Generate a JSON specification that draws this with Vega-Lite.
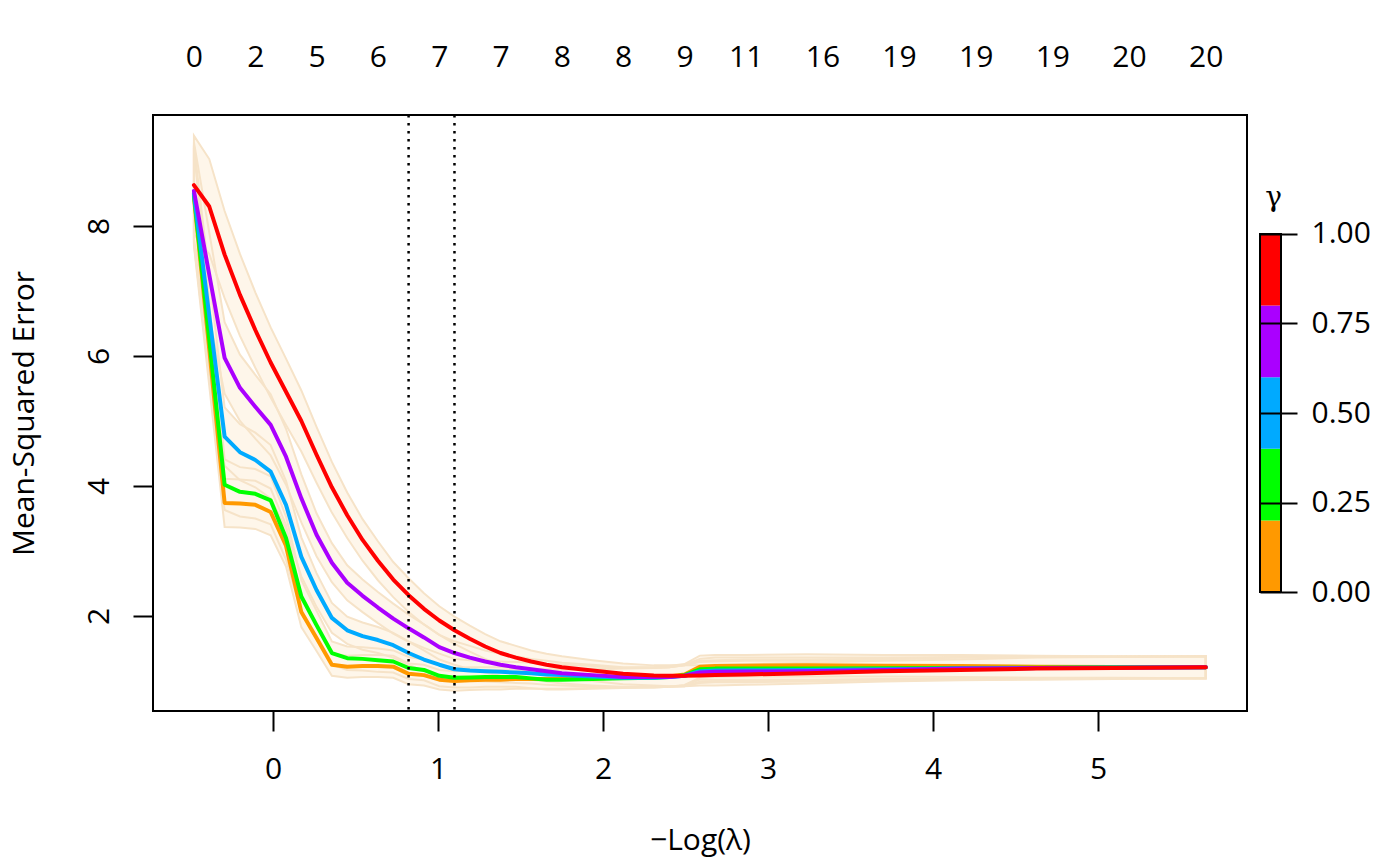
{
  "$schema": "https://vega.github.io/schema/vega-lite/v6.json",
  "background": "white",
  "padding": {"left": 8, "top": 41, "right": 5, "bottom": 5},
  "config": {
    "font": "Open Sans",
    "view": {"stroke": "black", "strokeWidth": 2}
  },
  "datasets": {
    "cv": [
      {"g":0,"x":-0.479,"m":8.45,"lo":7.70,"hi":9.20},
      {"g":0,"x":-0.386,"m":6.10,"lo":5.54,"hi":6.66},
      {"g":0,"x":-0.293,"m":3.74,"lo":3.37,"hi":4.11},
      {"g":0,"x":-0.2,"m":3.73,"lo":3.36,"hi":4.10},
      {"g":0,"x":-0.107,"m":3.71,"lo":3.34,"hi":4.08},
      {"g":0,"x":-0.014,"m":3.60,"lo":3.24,"hi":3.96},
      {"g":0,"x":0.079,"m":3.08,"lo":2.76,"hi":3.40},
      {"g":0,"x":0.172,"m":2.06,"lo":1.83,"hi":2.29},
      {"g":0,"x":0.264,"m":1.66,"lo":1.46,"hi":1.86},
      {"g":0,"x":0.357,"m":1.25,"lo":1.08,"hi":1.42},
      {"g":0,"x":0.45,"m":1.22,"lo":1.05,"hi":1.39},
      {"g":0,"x":0.543,"m":1.23,"lo":1.06,"hi":1.40},
      {"g":0,"x":0.636,"m":1.23,"lo":1.06,"hi":1.40},
      {"g":0,"x":0.729,"m":1.22,"lo":1.05,"hi":1.39},
      {"g":0,"x":0.822,"m":1.11,"lo":0.95,"hi":1.27},
      {"g":0,"x":0.915,"m":1.09,"lo":0.93,"hi":1.25},
      {"g":0,"x":1.008,"m":1.02,"lo":0.87,"hi":1.17},
      {"g":0,"x":1.1,"m":1.00,"lo":0.85,"hi":1.15},
      {"g":0,"x":1.193,"m":1.01,"lo":0.86,"hi":1.16},
      {"g":0,"x":1.286,"m":1.02,"lo":0.87,"hi":1.17},
      {"g":0,"x":1.379,"m":1.02,"lo":0.87,"hi":1.17},
      {"g":0,"x":1.472,"m":1.03,"lo":0.88,"hi":1.18},
      {"g":0,"x":1.565,"m":1.03,"lo":0.88,"hi":1.18},
      {"g":0,"x":1.658,"m":1.03,"lo":0.88,"hi":1.18},
      {"g":0,"x":1.751,"m":1.03,"lo":0.88,"hi":1.18},
      {"g":0,"x":1.936,"m":1.04,"lo":0.89,"hi":1.19},
      {"g":0,"x":2.122,"m":1.05,"lo":0.90,"hi":1.20},
      {"g":0,"x":2.308,"m":1.06,"lo":0.91,"hi":1.21},
      {"g":0,"x":2.401,"m":1.07,"lo":0.91,"hi":1.23},
      {"g":0,"x":2.494,"m":1.10,"lo":0.94,"hi":1.26},
      {"g":0,"x":2.587,"m":1.22,"lo":1.05,"hi":1.39},
      {"g":0,"x":2.68,"m":1.23,"lo":1.06,"hi":1.40},
      {"g":0,"x":2.865,"m":1.235,"lo":1.07,"hi":1.40},
      {"g":0,"x":3.237,"m":1.24,"lo":1.07,"hi":1.41},
      {"g":0,"x":3.702,"m":1.235,"lo":1.07,"hi":1.40},
      {"g":0,"x":4.166,"m":1.23,"lo":1.06,"hi":1.40},
      {"g":0,"x":4.631,"m":1.22,"lo":1.05,"hi":1.39},
      {"g":0,"x":5.095,"m":1.215,"lo":1.05,"hi":1.38},
      {"g":0,"x":5.653,"m":1.21,"lo":1.04,"hi":1.38},

      {"g":0.25,"x":-0.479,"m":8.48,"lo":7.73,"hi":9.23},
      {"g":0.25,"x":-0.386,"m":6.25,"lo":5.68,"hi":6.82},
      {"g":0.25,"x":-0.293,"m":4.02,"lo":3.63,"hi":4.41},
      {"g":0.25,"x":-0.2,"m":3.91,"lo":3.53,"hi":4.29},
      {"g":0.25,"x":-0.107,"m":3.88,"lo":3.50,"hi":4.26},
      {"g":0.25,"x":-0.014,"m":3.78,"lo":3.41,"hi":4.15},
      {"g":0.25,"x":0.079,"m":3.20,"lo":2.87,"hi":3.53},
      {"g":0.25,"x":0.172,"m":2.30,"lo":2.05,"hi":2.55},
      {"g":0.25,"x":0.264,"m":1.86,"lo":1.64,"hi":2.08},
      {"g":0.25,"x":0.357,"m":1.43,"lo":1.25,"hi":1.61},
      {"g":0.25,"x":0.45,"m":1.35,"lo":1.17,"hi":1.53},
      {"g":0.25,"x":0.543,"m":1.34,"lo":1.16,"hi":1.52},
      {"g":0.25,"x":0.636,"m":1.32,"lo":1.14,"hi":1.50},
      {"g":0.25,"x":0.729,"m":1.30,"lo":1.13,"hi":1.47},
      {"g":0.25,"x":0.822,"m":1.20,"lo":1.03,"hi":1.37},
      {"g":0.25,"x":0.915,"m":1.17,"lo":1.01,"hi":1.33},
      {"g":0.25,"x":1.008,"m":1.08,"lo":0.92,"hi":1.24},
      {"g":0.25,"x":1.1,"m":1.05,"lo":0.90,"hi":1.20},
      {"g":0.25,"x":1.193,"m":1.055,"lo":0.90,"hi":1.21},
      {"g":0.25,"x":1.286,"m":1.06,"lo":0.91,"hi":1.21},
      {"g":0.25,"x":1.379,"m":1.06,"lo":0.91,"hi":1.21},
      {"g":0.25,"x":1.472,"m":1.06,"lo":0.91,"hi":1.21},
      {"g":0.25,"x":1.565,"m":1.04,"lo":0.89,"hi":1.19},
      {"g":0.25,"x":1.658,"m":1.02,"lo":0.87,"hi":1.17},
      {"g":0.25,"x":1.751,"m":1.02,"lo":0.87,"hi":1.17},
      {"g":0.25,"x":1.936,"m":1.03,"lo":0.88,"hi":1.18},
      {"g":0.25,"x":2.122,"m":1.04,"lo":0.89,"hi":1.19},
      {"g":0.25,"x":2.308,"m":1.05,"lo":0.90,"hi":1.20},
      {"g":0.25,"x":2.401,"m":1.06,"lo":0.91,"hi":1.21},
      {"g":0.25,"x":2.494,"m":1.09,"lo":0.93,"hi":1.25},
      {"g":0.25,"x":2.587,"m":1.18,"lo":1.02,"hi":1.34},
      {"g":0.25,"x":2.68,"m":1.19,"lo":1.02,"hi":1.36},
      {"g":0.25,"x":2.865,"m":1.19,"lo":1.02,"hi":1.36},
      {"g":0.25,"x":3.237,"m":1.19,"lo":1.02,"hi":1.36},
      {"g":0.25,"x":3.702,"m":1.195,"lo":1.03,"hi":1.36},
      {"g":0.25,"x":4.166,"m":1.20,"lo":1.03,"hi":1.37},
      {"g":0.25,"x":4.631,"m":1.205,"lo":1.04,"hi":1.37},
      {"g":0.25,"x":5.095,"m":1.21,"lo":1.04,"hi":1.38},
      {"g":0.25,"x":5.653,"m":1.21,"lo":1.04,"hi":1.38},

      {"g":0.5,"x":-0.479,"m":8.50,"lo":7.75,"hi":9.25},
      {"g":0.5,"x":-0.386,"m":6.62,"lo":6.02,"hi":7.22},
      {"g":0.5,"x":-0.293,"m":4.76,"lo":4.31,"hi":5.21},
      {"g":0.5,"x":-0.2,"m":4.52,"lo":4.09,"hi":4.95},
      {"g":0.5,"x":-0.107,"m":4.40,"lo":3.98,"hi":4.82},
      {"g":0.5,"x":-0.014,"m":4.22,"lo":3.81,"hi":4.63},
      {"g":0.5,"x":0.079,"m":3.71,"lo":3.34,"hi":4.08},
      {"g":0.5,"x":0.172,"m":2.91,"lo":2.61,"hi":3.21},
      {"g":0.5,"x":0.264,"m":2.40,"lo":2.14,"hi":2.66},
      {"g":0.5,"x":0.357,"m":1.97,"lo":1.74,"hi":2.20},
      {"g":0.5,"x":0.45,"m":1.78,"lo":1.57,"hi":1.99},
      {"g":0.5,"x":0.543,"m":1.69,"lo":1.48,"hi":1.90},
      {"g":0.5,"x":0.636,"m":1.63,"lo":1.43,"hi":1.83},
      {"g":0.5,"x":0.729,"m":1.55,"lo":1.36,"hi":1.74},
      {"g":0.5,"x":0.822,"m":1.43,"lo":1.25,"hi":1.61},
      {"g":0.5,"x":0.915,"m":1.33,"lo":1.15,"hi":1.51},
      {"g":0.5,"x":1.008,"m":1.25,"lo":1.08,"hi":1.42},
      {"g":0.5,"x":1.1,"m":1.18,"lo":1.02,"hi":1.34},
      {"g":0.5,"x":1.193,"m":1.16,"lo":1.00,"hi":1.32},
      {"g":0.5,"x":1.286,"m":1.15,"lo":0.99,"hi":1.31},
      {"g":0.5,"x":1.379,"m":1.14,"lo":0.98,"hi":1.30},
      {"g":0.5,"x":1.472,"m":1.13,"lo":0.97,"hi":1.29},
      {"g":0.5,"x":1.565,"m":1.12,"lo":0.96,"hi":1.28},
      {"g":0.5,"x":1.658,"m":1.10,"lo":0.94,"hi":1.26},
      {"g":0.5,"x":1.751,"m":1.09,"lo":0.93,"hi":1.25},
      {"g":0.5,"x":1.936,"m":1.07,"lo":0.91,"hi":1.23},
      {"g":0.5,"x":2.122,"m":1.05,"lo":0.90,"hi":1.20},
      {"g":0.5,"x":2.308,"m":1.05,"lo":0.90,"hi":1.20},
      {"g":0.5,"x":2.401,"m":1.06,"lo":0.91,"hi":1.21},
      {"g":0.5,"x":2.494,"m":1.08,"lo":0.92,"hi":1.24},
      {"g":0.5,"x":2.587,"m":1.15,"lo":0.99,"hi":1.31},
      {"g":0.5,"x":2.68,"m":1.16,"lo":1.00,"hi":1.32},
      {"g":0.5,"x":2.865,"m":1.165,"lo":1.00,"hi":1.33},
      {"g":0.5,"x":3.237,"m":1.17,"lo":1.01,"hi":1.33},
      {"g":0.5,"x":3.702,"m":1.18,"lo":1.02,"hi":1.34},
      {"g":0.5,"x":4.166,"m":1.19,"lo":1.02,"hi":1.36},
      {"g":0.5,"x":4.631,"m":1.20,"lo":1.03,"hi":1.37},
      {"g":0.5,"x":5.095,"m":1.205,"lo":1.04,"hi":1.37},
      {"g":0.5,"x":5.653,"m":1.21,"lo":1.04,"hi":1.38},

      {"g":0.75,"x":-0.479,"m":8.54,"lo":7.79,"hi":9.29},
      {"g":0.75,"x":-0.386,"m":7.25,"lo":6.60,"hi":7.90},
      {"g":0.75,"x":-0.293,"m":5.97,"lo":5.42,"hi":6.52},
      {"g":0.75,"x":-0.2,"m":5.51,"lo":5.00,"hi":6.02},
      {"g":0.75,"x":-0.107,"m":5.22,"lo":4.73,"hi":5.71},
      {"g":0.75,"x":-0.014,"m":4.94,"lo":4.47,"hi":5.41},
      {"g":0.75,"x":0.079,"m":4.45,"lo":4.02,"hi":4.88},
      {"g":0.75,"x":0.172,"m":3.81,"lo":3.44,"hi":4.18},
      {"g":0.75,"x":0.264,"m":3.25,"lo":2.92,"hi":3.58},
      {"g":0.75,"x":0.357,"m":2.82,"lo":2.52,"hi":3.12},
      {"g":0.75,"x":0.45,"m":2.51,"lo":2.24,"hi":2.78},
      {"g":0.75,"x":0.543,"m":2.31,"lo":2.06,"hi":2.56},
      {"g":0.75,"x":0.636,"m":2.13,"lo":1.89,"hi":2.37},
      {"g":0.75,"x":0.729,"m":1.96,"lo":1.73,"hi":2.19},
      {"g":0.75,"x":0.822,"m":1.81,"lo":1.60,"hi":2.02},
      {"g":0.75,"x":0.915,"m":1.67,"lo":1.47,"hi":1.87},
      {"g":0.75,"x":1.008,"m":1.52,"lo":1.33,"hi":1.71},
      {"g":0.75,"x":1.1,"m":1.43,"lo":1.25,"hi":1.61},
      {"g":0.75,"x":1.193,"m":1.36,"lo":1.18,"hi":1.54},
      {"g":0.75,"x":1.286,"m":1.30,"lo":1.13,"hi":1.47},
      {"g":0.75,"x":1.379,"m":1.25,"lo":1.08,"hi":1.42},
      {"g":0.75,"x":1.472,"m":1.21,"lo":1.04,"hi":1.38},
      {"g":0.75,"x":1.565,"m":1.18,"lo":1.02,"hi":1.34},
      {"g":0.75,"x":1.658,"m":1.15,"lo":0.99,"hi":1.31},
      {"g":0.75,"x":1.751,"m":1.12,"lo":0.96,"hi":1.28},
      {"g":0.75,"x":1.936,"m":1.09,"lo":0.93,"hi":1.25},
      {"g":0.75,"x":2.122,"m":1.06,"lo":0.91,"hi":1.21},
      {"g":0.75,"x":2.308,"m":1.06,"lo":0.91,"hi":1.21},
      {"g":0.75,"x":2.401,"m":1.06,"lo":0.91,"hi":1.21},
      {"g":0.75,"x":2.494,"m":1.08,"lo":0.92,"hi":1.24},
      {"g":0.75,"x":2.587,"m":1.13,"lo":0.97,"hi":1.29},
      {"g":0.75,"x":2.68,"m":1.14,"lo":0.98,"hi":1.30},
      {"g":0.75,"x":2.865,"m":1.145,"lo":0.98,"hi":1.31},
      {"g":0.75,"x":3.237,"m":1.15,"lo":0.99,"hi":1.31},
      {"g":0.75,"x":3.702,"m":1.17,"lo":1.01,"hi":1.33},
      {"g":0.75,"x":4.166,"m":1.19,"lo":1.02,"hi":1.36},
      {"g":0.75,"x":4.631,"m":1.20,"lo":1.03,"hi":1.37},
      {"g":0.75,"x":5.095,"m":1.205,"lo":1.04,"hi":1.37},
      {"g":0.75,"x":5.653,"m":1.21,"lo":1.04,"hi":1.38},

      {"g":1,"x":-0.479,"m":8.63,"lo":7.87,"hi":9.39},
      {"g":1,"x":-0.386,"m":8.30,"lo":7.57,"hi":9.03},
      {"g":1,"x":-0.293,"m":7.56,"lo":6.89,"hi":8.23},
      {"g":1,"x":-0.2,"m":6.94,"lo":6.31,"hi":7.57},
      {"g":1,"x":-0.107,"m":6.40,"lo":5.82,"hi":6.98},
      {"g":1,"x":-0.014,"m":5.90,"lo":5.36,"hi":6.44},
      {"g":1,"x":0.079,"m":5.45,"lo":4.94,"hi":5.96},
      {"g":1,"x":0.172,"m":5.00,"lo":4.53,"hi":5.47},
      {"g":1,"x":0.264,"m":4.48,"lo":4.05,"hi":4.91},
      {"g":1,"x":0.357,"m":3.98,"lo":3.59,"hi":4.37},
      {"g":1,"x":0.45,"m":3.55,"lo":3.20,"hi":3.90},
      {"g":1,"x":0.543,"m":3.17,"lo":2.85,"hi":3.49},
      {"g":1,"x":0.636,"m":2.85,"lo":2.55,"hi":3.15},
      {"g":1,"x":0.729,"m":2.56,"lo":2.29,"hi":2.83},
      {"g":1,"x":0.822,"m":2.32,"lo":2.06,"hi":2.58},
      {"g":1,"x":0.915,"m":2.11,"lo":1.87,"hi":2.35},
      {"g":1,"x":1.008,"m":1.93,"lo":1.71,"hi":2.15},
      {"g":1,"x":1.1,"m":1.78,"lo":1.57,"hi":1.99},
      {"g":1,"x":1.193,"m":1.65,"lo":1.45,"hi":1.85},
      {"g":1,"x":1.286,"m":1.53,"lo":1.34,"hi":1.72},
      {"g":1,"x":1.379,"m":1.43,"lo":1.25,"hi":1.61},
      {"g":1,"x":1.472,"m":1.36,"lo":1.18,"hi":1.54},
      {"g":1,"x":1.565,"m":1.30,"lo":1.13,"hi":1.47},
      {"g":1,"x":1.658,"m":1.25,"lo":1.08,"hi":1.42},
      {"g":1,"x":1.751,"m":1.21,"lo":1.04,"hi":1.38},
      {"g":1,"x":1.936,"m":1.16,"lo":1.00,"hi":1.32},
      {"g":1,"x":2.122,"m":1.11,"lo":0.95,"hi":1.27},
      {"g":1,"x":2.308,"m":1.085,"lo":0.93,"hi":1.24},
      {"g":1,"x":2.401,"m":1.08,"lo":0.92,"hi":1.24},
      {"g":1,"x":2.494,"m":1.08,"lo":0.92,"hi":1.24},
      {"g":1,"x":2.587,"m":1.085,"lo":0.93,"hi":1.24},
      {"g":1,"x":2.68,"m":1.09,"lo":0.93,"hi":1.25},
      {"g":1,"x":2.865,"m":1.10,"lo":0.94,"hi":1.26},
      {"g":1,"x":3.237,"m":1.12,"lo":0.96,"hi":1.28},
      {"g":1,"x":3.702,"m":1.15,"lo":0.99,"hi":1.31},
      {"g":1,"x":4.166,"m":1.17,"lo":1.01,"hi":1.33},
      {"g":1,"x":4.631,"m":1.19,"lo":1.02,"hi":1.36},
      {"g":1,"x":5.095,"m":1.20,"lo":1.03,"hi":1.37},
      {"g":1,"x":5.653,"m":1.21,"lo":1.04,"hi":1.38}
    ],
    "cuts": [{"v": 0.822}, {"v": 1.1}],
    "bar": [
      {"from": 0, "to": 0.2, "g": 0},
      {"from": 0.2, "to": 0.4, "g": 0.25},
      {"from": 0.4, "to": 0.6, "g": 0.5},
      {"from": 0.6, "to": 0.8, "g": 0.75},
      {"from": 0.8, "to": 1, "g": 1}
    ]
  },
  "bounds": "flush",
  "spacing": 13,
  "hconcat": [
    {
      "width": 1094,
      "height": 596,
      "layer": [
        {
          "data": {"name": "cv"},
          "mark": {"type": "area", "color": "#FEF6EA", "opacity": 1},
          "encoding": {
            "x": {
              "field": "x", "type": "quantitative",
              "scale": {"domain": [-0.727, 5.903], "nice": false, "zero": false},
              "axis": {
                "orient": "bottom", "values": [0, 1, 2, 3, 4, 5], "format": "d",
                "tickSize": 20, "tickWidth": 2, "tickColor": "black",
                "domain": false, "grid": false, "labelFlush": false,
                "labelFontSize": 30, "labelColor": "black", "labelPadding": 23,
                "title": "−Log(λ)", "titleFontSize": 30, "titleFontWeight": "normal",
                "titleColor": "black", "titlePadding": 41
              }
            },
            "y": {
              "field": "lo", "type": "quantitative",
              "scale": {"domain": [0.538, 9.708], "nice": false, "zero": false},
              "axis": {
                "values": [2, 4, 6, 8],
                "tickSize": 20, "tickWidth": 2, "tickColor": "black",
                "domain": false, "grid": false,
                "labelAngle": -90, "labelAlign": "center", "labelBaseline": "alphabetic",
                "labelFontSize": 30, "labelColor": "black", "labelPadding": 25,
                "title": "Mean-Squared Error", "titleFontSize": 30, "titleFontWeight": "normal",
                "titleColor": "black", "titlePadding": 45
              }
            },
            "y2": {"field": "hi"},
            "detail": {"field": "g"}
          }
        },
        {
          "data": {"name": "cv"},
          "mark": {"type": "area", "filled": false, "color": "#F6E3C8", "strokeWidth": 2},
          "encoding": {
            "x": {"field": "x", "type": "quantitative", "axis": null},
            "y": {"field": "lo", "type": "quantitative", "axis": null},
            "y2": {"field": "hi"},
            "detail": {"field": "g"}
          }
        },
        {
          "data": {"name": "cv"},
          "mark": {"type": "line", "strokeWidth": 4, "strokeJoin": "round", "strokeCap": "round"},
          "encoding": {
            "x": {"field": "x", "type": "quantitative", "axis": null},
            "y": {"field": "m", "type": "quantitative", "axis": null},
            "color": {
              "field": "g", "type": "ordinal",
              "scale": {"domain": [0, 0.25, 0.5, 0.75, 1], "range": ["#FF9900", "#00FF00", "#00AAFF", "#AA00FF", "#FF0000"]},
              "legend": null
            }
          }
        },
        {
          "data": {"name": "cuts"},
          "mark": {"type": "rule", "color": "black", "strokeWidth": 2.5, "strokeDash": [2.5, 5.5]},
          "encoding": {
            "x": {
              "field": "v", "type": "quantitative",
              "axis": {
                "orient": "top",
                "values": [-0.479, -0.107, 0.264, 0.636, 1.008, 1.379, 1.751, 2.122, 2.494, 2.865, 3.33, 3.794, 4.259, 4.723, 5.188, 5.653],
                "labelExpr": "['0','2','5','6','7','7','8','8','9','11','16','19','19','19','20','20'][indexof([-0.479,-0.107,0.264,0.636,1.008,1.379,1.751,2.122,2.494,2.865,3.33,3.794,4.259,4.723,5.188,5.653], datum.value)]",
                "ticks": false, "tickSize": 0, "domain": false, "grid": false,
                "labelFlush": false, "labelOverlap": false,
                "labelFontSize": 30, "labelColor": "black", "labelPadding": 43,
                "title": null
              }
            }
          }
        }
      ],
      "resolve": {"axis": {"x": "independent", "y": "independent"}}
    },
    {
      "width": 21,
      "height": 596,
      "view": {"stroke": null},
      "layer": [
        {
          "data": {"name": "bar"},
          "mark": {"type": "rect"},
          "encoding": {
            "x": {"datum": 0, "type": "quantitative", "scale": {"domain": [0, 1], "nice": false}, "axis": null},
            "x2": {"datum": 1},
            "y": {
              "field": "from", "type": "quantitative",
              "scale": {"domain": [-0.332, 1.332], "nice": false, "zero": false},
              "axis": {
                "orient": "right", "values": [0, 0.25, 0.5, 0.75, 1], "format": ".2f",
                "tickSize": 16, "tickWidth": 2, "tickColor": "black",
                "grid": true, "gridColor": "black", "gridWidth": 2, "gridOpacity": 1,
                "domain": false, "zindex": 1,
                "labelFontSize": 30, "labelColor": "black", "labelPadding": 14,
                "title": null
              }
            },
            "y2": {"field": "to"},
            "color": {
              "field": "g", "type": "ordinal",
              "scale": {"domain": [0, 0.25, 0.5, 0.75, 1], "range": ["#FF9900", "#00FF00", "#00AAFF", "#AA00FF", "#FF0000"]},
              "legend": null
            }
          }
        },
        {
          "data": {"values": [{"from": 0, "to": 1}]},
          "mark": {"type": "rect", "filled": false, "color": "black", "strokeWidth": 2},
          "encoding": {
            "x": {"datum": 0, "type": "quantitative"},
            "x2": {"datum": 1},
            "y": {"field": "from", "type": "quantitative"},
            "y2": {"field": "to"}
          }
        },
        {
          "data": {"values": [{"t": "γ", "at": 1.1}]},
          "mark": {"type": "text", "font": "DejaVu Serif", "fontSize": 28, "baseline": "middle", "dx": 3},
          "encoding": {
            "x": {"datum": 0.5, "type": "quantitative"},
            "y": {"field": "at", "type": "quantitative"},
            "text": {"field": "t"}
          }
        }
      ]
    }
  ]
}
